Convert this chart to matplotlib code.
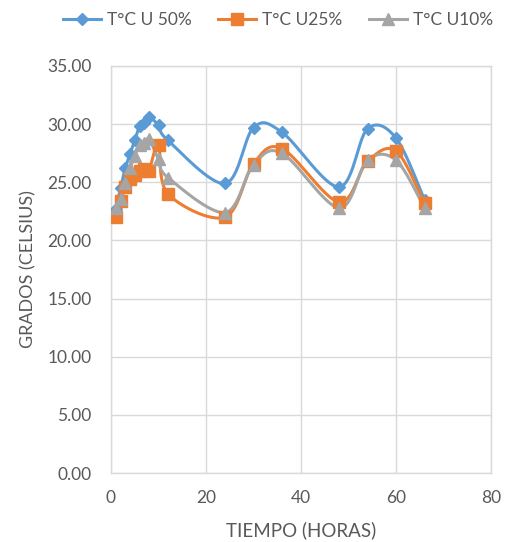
import numpy as np
import matplotlib
matplotlib.use("Agg")
import matplotlib.pyplot as plt

plt.rcParams['font.family'] = ['Lato', 'DejaVu Sans']

# Measurement times (hours) and temperatures (°C) for each humidity level
horas = [1, 2, 3, 4, 5, 6, 7, 8, 10, 12, 24, 30, 36, 48, 54, 60, 66]
t_u50 = [22.7, 24.5, 26.2, 27.4, 28.6, 29.8, 30.1, 30.6, 29.9, 28.6,
         24.9, 29.7, 29.3, 24.6, 29.6, 28.8, 23.5]
t_u25 = [22.0, 23.4, 24.6, 25.3, 25.6, 26.0, 26.1, 26.0, 28.2, 24.0,
         22.0, 26.6, 27.9, 23.3, 26.8, 27.7, 23.2]
t_u10 = [22.8, 23.6, 24.9, 26.2, 27.3, 28.2, 28.4, 28.7, 27.0, 25.4,
         22.4, 26.5, 27.5, 22.8, 26.9, 26.9, 22.8]

series_labels = ["T°C U 50%", "T°C U25%", "T°C U10%"]
y_ticks = [0, 5, 10, 15, 20, 25, 30, 35]
x_ticks = [0, 20, 40, 60, 80]

colors = ["#5B9BD5", "#ED7D31", "#A5A5A5"]
markers = ["D", "s", "^"]
msizes = [6, 8, 8]
text_color = "#595959"
grid_color = "#D9D9D9"


def smooth_curve(x, y, n=30):
    """Cardinal (Catmull-Rom style) Bezier smoothing through every point."""
    x = np.asarray(x, float)
    y = np.asarray(y, float)
    pts = np.column_stack([x, y])
    out = []
    m = len(pts)
    t = np.linspace(0, 1, n)[:, None]
    for i in range(m - 1):
        p0 = pts[i - 1] if i > 0 else pts[i]
        p1 = pts[i]
        p2 = pts[i + 1]
        p3 = pts[i + 2] if i + 2 < m else pts[i + 1]
        c1 = p1 + (p2 - p0) / 6.0
        c2 = p2 - (p3 - p1) / 6.0
        seg = ((1 - t) ** 3) * p1 + 3 * ((1 - t) ** 2) * t * c1 \
            + 3 * (1 - t) * t ** 2 * c2 + t ** 3 * p2
        out.append(seg if i == 0 else seg[1:])
    curve = np.vstack(out)
    return curve[:, 0], curve[:, 1]


fig = plt.figure(figsize=(5.08, 5.42), dpi=100)
ax = fig.add_axes([111 / 508, 1 - 473 / 542, 380 / 508, 407 / 542])

handles = []
for vals, lab, c, mk, ms in zip([t_u50, t_u25, t_u10], series_labels,
                                colors, markers, msizes):
    sx, sy = smooth_curve(horas, vals)
    ax.plot(sx, sy, color=c, lw=2.2, solid_capstyle="round", zorder=3)
    ax.plot(horas, vals, ls="none", marker=mk, ms=ms, color=c,
            markeredgecolor=c, zorder=4)
    h, = ax.plot([], [], color=c, lw=2.2, marker=mk, ms=ms, label=lab)
    handles.append(h)

ax.set_xlim(0, 80)
ax.set_ylim(0, 35)
ax.set_xticks(x_ticks)
ax.set_yticks(y_ticks)
ax.set_yticklabels([f"{v:.2f}" for v in y_ticks])
ax.grid(True, color=grid_color, lw=1.0, zorder=0)
ax.set_axisbelow(True)
for s in ax.spines.values():
    s.set_color(grid_color)
    s.set_linewidth(1.0)
ax.tick_params(length=0, labelsize=12.5, colors=text_color, pad=14)
ax.tick_params(axis="x", pad=12)

ax.set_xlabel("TIEMPO (HORAS)", fontsize=13.5, color=text_color, labelpad=11)
ax.set_ylabel("GRADOS (CELSIUS)", fontsize=13, color=text_color, labelpad=8)

fig.legend(handles=handles, loc="center", bbox_to_anchor=(278 / 508, 1 - 20 / 542),
           ncol=3, frameon=False, fontsize=12.5, labelcolor=text_color,
           handlelength=2.2, columnspacing=1.5, handletextpad=0.35)

fig.savefig("out.png", dpi=100)
